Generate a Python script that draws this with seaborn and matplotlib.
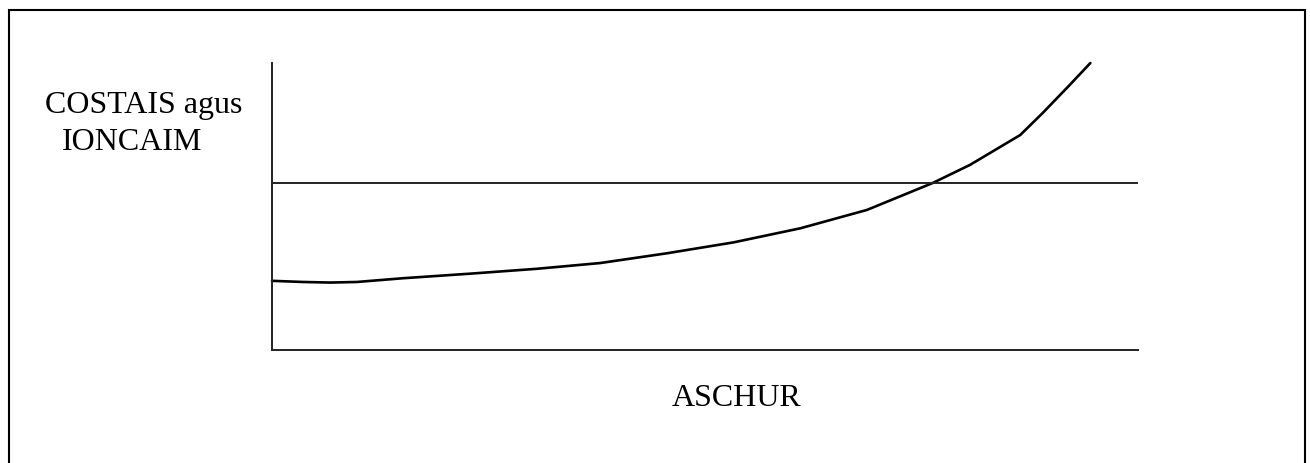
import numpy as np
import pandas as pd
import matplotlib.pyplot as plt
import seaborn as sns
from matplotlib.patches import Rectangle

# curve (axis units 0-10)
aschur = [0.00, 0.36, 0.67, 0.98, 1.51, 2.29, 3.06, 3.79, 4.56, 5.33, 6.10, 6.87,
          7.63, 8.06, 8.64, 8.90, 9.21, 9.45]
costais = [2.41, 2.37, 2.35, 2.37, 2.50, 2.66, 2.83, 3.03, 3.37, 3.75, 4.24, 4.88,
           5.82, 6.45, 7.49, 8.26, 9.23, 10.0]
ioncaim = 5.82

ylabel_lines = ["COSTAIS agus", "IONCAIM"]
xlabel = "ASCHUR"

df = pd.DataFrame({"aschur": aschur, "costais": costais})

sns.set_style("white")
plt.rcParams['font.family'] = ['Liberation Serif', 'DejaVu Serif']

fig = plt.figure(figsize=(13.1, 4.63), dpi=100)
W, H = 1310, 463

# outer frame
fig.patches.append(Rectangle((9 / W, -0.05), (1305 - 9) / W, 1 - 10 / H + 0.05,
                             transform=fig.transFigure, fill=False,
                             edgecolor='black', linewidth=1.5))

ax = fig.add_axes([272 / W, (H - 350) / H, 866 / W, 287 / H])
sns.lineplot(data=df, x="aschur", y="costais", ax=ax, color='black', linewidth=1.9,
             sort=False, estimator=None)
ax.lines[0].set_clip_on(False)
ax.lines[0].set_solid_joinstyle('round')
ax.axhline(ioncaim, color='#222222', linewidth=1.4)

ax.set_xlim(0, 10)
ax.set_ylim(0, 10)
ax.set_xticks([])
ax.set_yticks([])
ax.set_xlabel("")
ax.set_ylabel("")
for s in ["top", "right"]:
    ax.spines[s].set_visible(False)
for s in ["left", "bottom"]:
    ax.spines[s].set_color('#222222')
    ax.spines[s].set_linewidth(1.4)

fig.text(45 / W, 1 - 113 / H, ylabel_lines[0], fontsize=23, va='baseline', ha='left', color='black')
fig.text(62 / W, 1 - 150 / H, ylabel_lines[1], fontsize=23, va='baseline', ha='left', color='black')
fig.text(737 / W, 1 - 406 / H, xlabel, fontsize=23, va='baseline', ha='center', color='black')

fig.savefig("out.png", dpi=100)
